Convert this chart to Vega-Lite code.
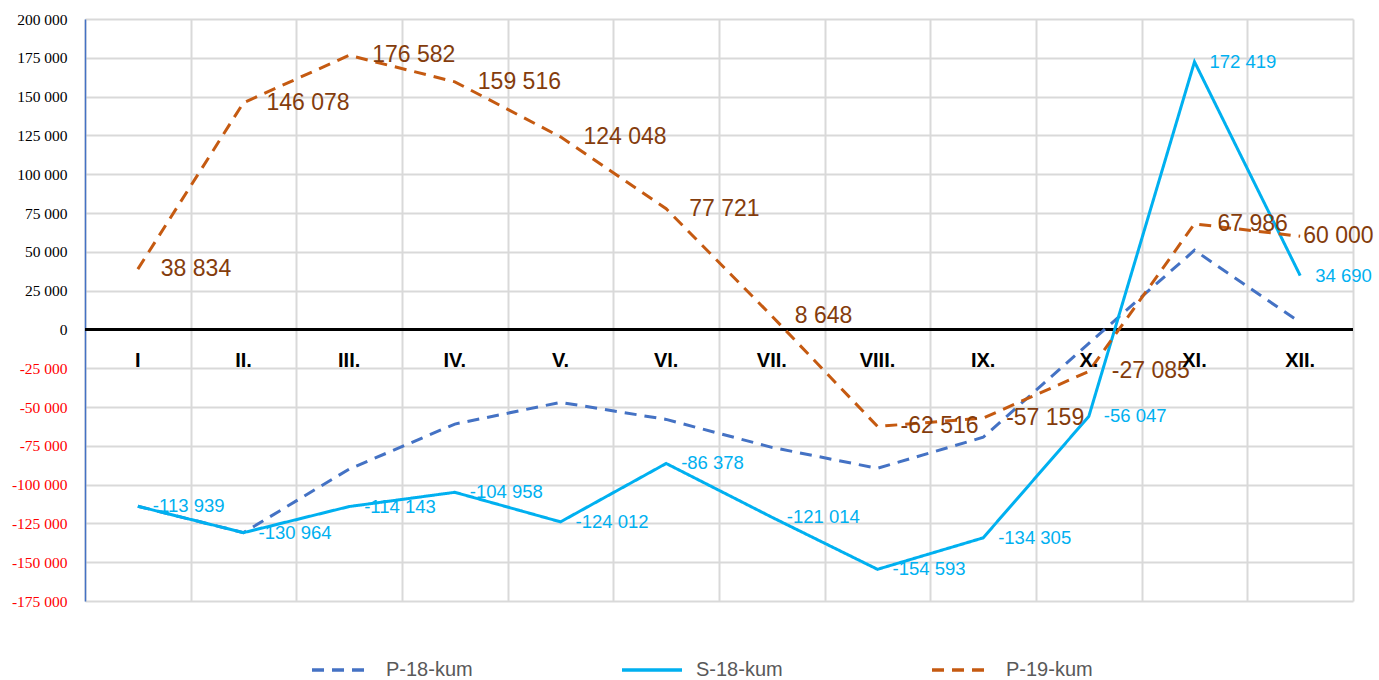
{
  "$schema": "https://vega.github.io/schema/vega-lite/v6.json",
  "width": 1268,
  "height": 582,
  "autosize": {"type": "none"},
  "padding": {"left": 85, "top": 19, "right": 26, "bottom": 79},
  "background": "#ffffff",
  "config": {
    "locale": {"number": {"decimal": ",", "thousands": " ", "grouping": [3], "currency": ["", ""], "minus": "-"}},
    "view": {"stroke": null},
    "legend": {"gridAlign": "all"}
  },
  "data": {
    "values": [
      {"month": "I", "series": "P-18-kum", "value": -113939},
      {"month": "II.", "series": "P-18-kum", "value": -130964},
      {"month": "III.", "series": "P-18-kum", "value": -90000},
      {"month": "IV.", "series": "P-18-kum", "value": -61000},
      {"month": "V.", "series": "P-18-kum", "value": -47000},
      {"month": "VI.", "series": "P-18-kum", "value": -58000},
      {"month": "VII.", "series": "P-18-kum", "value": -76000},
      {"month": "VIII.", "series": "P-18-kum", "value": -89500},
      {"month": "IX.", "series": "P-18-kum", "value": -69500},
      {"month": "X.", "series": "P-18-kum", "value": -9000},
      {"month": "XI.", "series": "P-18-kum", "value": 51000},
      {"month": "XII.", "series": "P-18-kum", "value": 4500},
      {"month": "I", "series": "S-18-kum", "value": -113939},
      {"month": "II.", "series": "S-18-kum", "value": -130964},
      {"month": "III.", "series": "S-18-kum", "value": -114143},
      {"month": "IV.", "series": "S-18-kum", "value": -104958},
      {"month": "V.", "series": "S-18-kum", "value": -124012},
      {"month": "VI.", "series": "S-18-kum", "value": -86378},
      {"month": "VII.", "series": "S-18-kum", "value": -121014},
      {"month": "VIII.", "series": "S-18-kum", "value": -154593},
      {"month": "IX.", "series": "S-18-kum", "value": -134305},
      {"month": "X.", "series": "S-18-kum", "value": -56047},
      {"month": "XI.", "series": "S-18-kum", "value": 172419},
      {"month": "XII.", "series": "S-18-kum", "value": 34690},
      {"month": "I", "series": "P-19-kum", "value": 38834},
      {"month": "II.", "series": "P-19-kum", "value": 146078},
      {"month": "III.", "series": "P-19-kum", "value": 176582},
      {"month": "IV.", "series": "P-19-kum", "value": 159516},
      {"month": "V.", "series": "P-19-kum", "value": 124048},
      {"month": "VI.", "series": "P-19-kum", "value": 77721},
      {"month": "VII.", "series": "P-19-kum", "value": 8648},
      {"month": "VIII.", "series": "P-19-kum", "value": -62516},
      {"month": "IX.", "series": "P-19-kum", "value": -57159},
      {"month": "X.", "series": "P-19-kum", "value": -27085},
      {"month": "XI.", "series": "P-19-kum", "value": 67986},
      {"month": "XII.", "series": "P-19-kum", "value": 60000}
    ]
  },
  "encoding": {
    "x": {
      "field": "month",
      "type": "nominal",
      "sort": ["I", "II.", "III.", "IV.", "V.", "VI.", "VII.", "VIII.", "IX.", "X.", "XI.", "XII."],
      "scale": {"paddingInner": 0, "paddingOuter": 0},
      "axis": {"title": null, "labels": false, "ticks": false, "domain": false, "grid": true, "tickBand": "extent", "gridColor": "#d9d9d9", "gridWidth": 2}
    },
    "y": {
      "field": "value",
      "type": "quantitative",
      "scale": {"domain": [-175000, 200000], "nice": false, "zero": false},
      "axis": {
        "title": null,
        "values": [-175000, -150000, -125000, -100000, -75000, -50000, -25000, 0, 25000, 50000, 75000, 100000, 125000, 150000, 175000, 200000],
        "format": ",d",
        "grid": true,
        "gridColor": "#d9d9d9",
        "gridWidth": 2,
        "ticks": false,
        "domain": true,
        "domainColor": "#4472C4",
        "domainWidth": 1.5,
        "labelFont": "Liberation Serif, Times New Roman, serif",
        "labelFontSize": 15.5,
        "labelPadding": 18,
        "labelColor": {"expr": "datum.value < 0 ? '#ff0000' : '#000000'"}
      }
    }
  },
  "layer": [
    {
      "mark": {"type": "rule", "color": "#000000", "strokeWidth": 2},
      "encoding": {"x": null, "y": {"datum": 0}}
    },
    {
      "mark": {"type": "line", "strokeWidth": 3},
      "encoding": {
        "color": {
          "field": "series",
          "type": "nominal",
          "scale": {"domain": ["P-18-kum", "S-18-kum", "P-19-kum"], "range": ["#4472C4", "#00B0F0", "#C55A11"]},
          "legend": {
            "title": null,
            "orient": "none",
            "legendX": 225,
            "legendY": 619,
            "direction": "horizontal",
            "symbolType": "stroke",
            "symbolSize": 3600,
            "symbolStrokeWidth": 3.5,
            "labelFont": "Liberation Sans",
            "labelFontSize": 20,
            "labelColor": "#595959",
            "labelOffset": 12,
            "columnPadding": 142
          }
        },
        "strokeDash": {
          "field": "series",
          "type": "nominal",
          "scale": {"domain": ["P-18-kum", "S-18-kum", "P-19-kum"], "range": [[12, 8], [1, 0], [12, 8]]},
          "legend": null
        }
      }
    },
    {
      "transform": [{"filter": "datum.series === 'S-18-kum'"}],
      "mark": {"type": "text", "align": "left", "baseline": "middle", "dx": 15, "font": "Liberation Sans", "fontSize": 18.5, "color": "#00B0F0"},
      "encoding": {"text": {"field": "value", "type": "quantitative", "format": ",d"}}
    },
    {
      "transform": [{"filter": "datum.series === 'P-19-kum' && datum.month !== 'XII.'"}],
      "mark": {"type": "text", "align": "left", "baseline": "middle", "dx": 23, "font": "Liberation Sans", "fontSize": 23, "color": "#843C0C"},
      "encoding": {"text": {"field": "value", "type": "quantitative", "format": ",d"}}
    },
    {
      "transform": [{"filter": "datum.series === 'P-19-kum' && datum.month === 'XII.'"}],
      "mark": {"type": "text", "align": "left", "baseline": "middle", "dx": 3, "font": "Liberation Sans", "fontSize": 23, "color": "#843C0C"},
      "encoding": {"text": {"field": "value", "type": "quantitative", "format": ",d"}}
    },
    {
      "transform": [{"filter": "datum.series === 'P-18-kum'"}],
      "mark": {"type": "text", "align": "center", "baseline": "middle", "font": "Liberation Sans", "fontWeight": "bold", "fontSize": 20, "color": "#000000"},
      "encoding": {"y": {"datum": -20500}, "text": {"field": "month", "type": "nominal"}}
    }
  ]
}
